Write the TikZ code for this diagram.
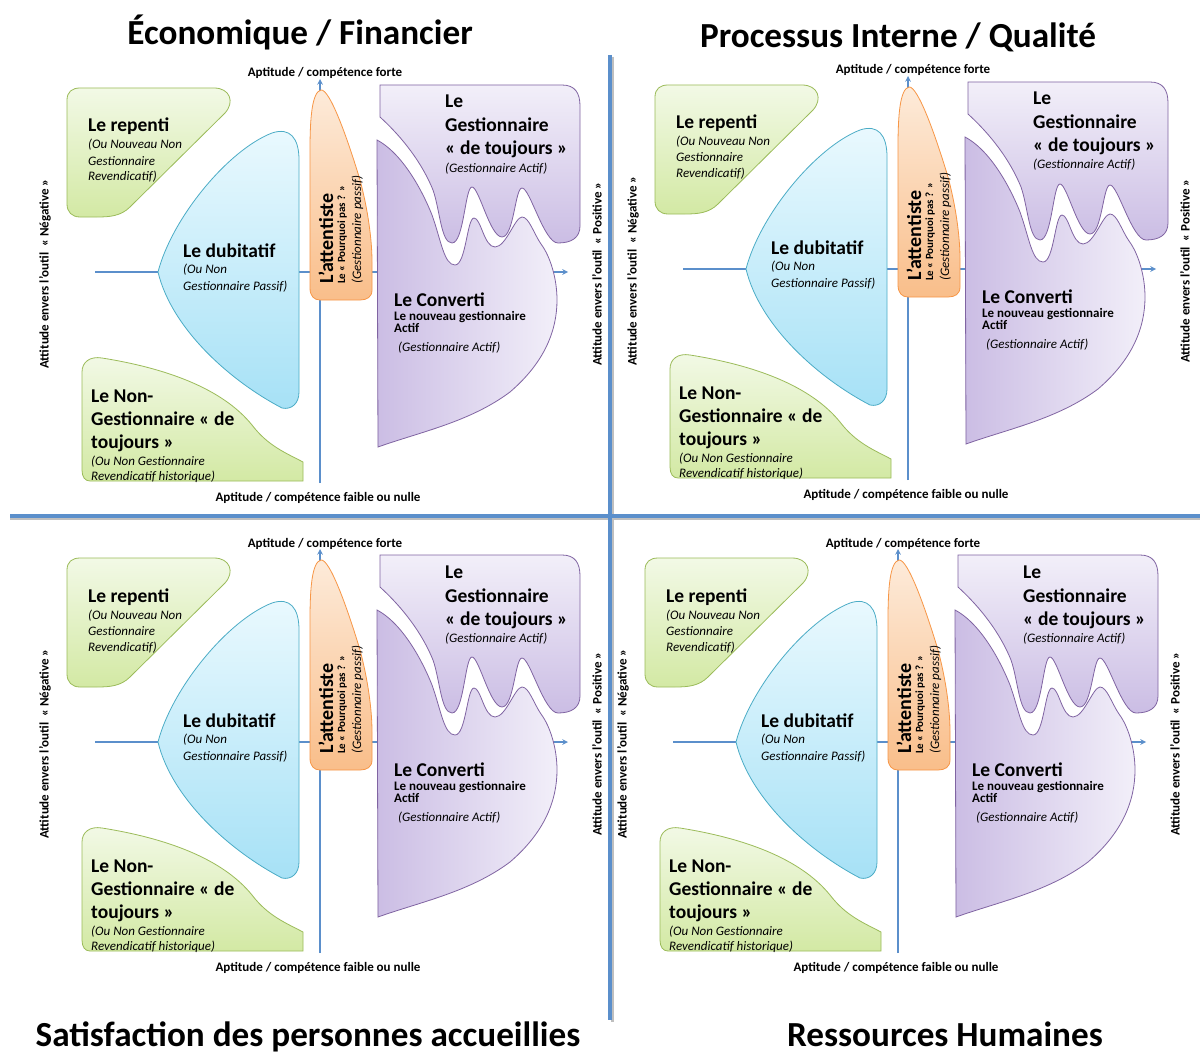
\documentclass[tikz,border=0pt]{standalone}
\usepackage{fontspec}
\setmainfont{Carlito}
\usetikzlibrary{arrows.meta,positioning}

\definecolor{axeblue}{HTML}{5B8FCB}
\definecolor{vertline}{HTML}{9BBB59}
\definecolor{vertlight}{HTML}{F2F9E6}
\definecolor{vertdark}{HTML}{D3E9A4}
\definecolor{bleuline}{HTML}{4BACC6}
\definecolor{bleulight}{HTML}{EAF9FE}
\definecolor{bleudark}{HTML}{A6E1F6}
\definecolor{orangeline}{HTML}{F79646}
\definecolor{orangelight}{HTML}{FDEBDA}
\definecolor{orangedark}{HTML}{F9BE8A}
\definecolor{violetline}{HTML}{8064A2}
\definecolor{violetlight}{HTML}{F2EFF9}
\definecolor{violetdark}{HTML}{CBBDE4}

% un quadrant : decalage x, decalage y, prefixe des noms
\newcommand{\quadrant}[3]{%
\begin{scope}[shift={(#1,#2)},name prefix=#3-]
% axes
\draw[axe,->](95,272)--(568,272);
\draw[axe,->](320,483)--(320,79);
% zones
\draw[vertbox](67,100) .. controls (67,92) and (72,88) .. (80,88) -- (214,88) .. controls (230,88) and (235,102) .. (225,113) -- (130,207) .. controls (121,216) and (110,217) .. (97,217) -- (80,217) .. controls (72,217) and (67,212) .. (67,204) -- cycle;
\draw[bleubox](158,272) .. controls (172,218) and (228,150) .. (272,133) .. controls (290,127) and (299,138) .. (299,160) -- (299,392) .. controls (299,404) and (291,410) .. (282,408) .. controls (232,382) and (172,330) .. (158,272) -- cycle;
\draw[vertbox](82,372) .. controls (82,362) and (90,356) .. (102,358) .. controls (165,368) and (222,388) .. (252,425) .. controls (268,446) and (286,453) .. (303,462) -- (303,481) -- (90,481) .. controls (85,481) and (82,477) .. (82,470) -- cycle;
\draw[orangebox](310,288) -- (310,150) .. controls (310,118) and (312,92) .. (321,90) .. controls (330,89) and (348,140) .. (360,180) .. controls (368,210) and (372,240) .. (372,262) -- (372,290) .. controls (372,297) and (367,300) .. (360,300) -- (320,300) .. controls (314,300) and (310,296) .. (310,288) -- cycle;
\draw[violetbox](380,85) -- (562,85) .. controls (575,85) and (580,93) .. (580,106) -- (580,226) .. controls (580,238) and (571,243) .. (558,243) .. controls (544,243) and (530,188) .. (522,188) .. controls (515,188) and (514,237) .. (502,237) .. controls (490,237) and (479,187) .. (472,187) .. controls (465,187) and (464,243) .. (452,243) .. controls (441,243) and (440,210) .. (433,190) .. controls (422,163) and (403,138) .. (380,117) -- cycle;
\draw[convbox](377,140) .. controls (400,152) and (420,185) .. (432,215) .. controls (441,240) and (444,265) .. (455,265) .. controls (466,265) and (467,218) .. (474,218) .. controls (481,218) and (484,247) .. (495,247) .. controls (506,247) and (515,217) .. (522,217) .. controls (529,217) and (534,234) .. (541,244) .. controls (550,256) and (557,278) .. (557,300) .. controls (557,330) and (545,362) .. (510,392) .. controls (470,422) and (420,432) .. (378,447) -- cycle;
% textes
\path(325,77)node[ax,anchor=base](forte){Aptitude / compétence forte}
(318,501)node[ax,anchor=base](faible){Aptitude / compétence faible ou nulle}
(45,274)node[ax,rotate=90,anchor=center](neg){Attitude envers l’outil\ \ « Négative »}
(597,274)node[ax,rotate=90,anchor=center](pos){Attitude envers l’outil\ \ « Positive »};
\path(88,132)node[hd](rep1){Le repenti}
(88,149)node[it](rep2){(Ou Nouveau Non}
(88,165)node[it](rep3){Gestionnaire}
(88,181)node[it](rep4){Revendicatif)};
\path(183,257)node[hd](dub1){Le dubitatif}
(183,273)node[it](dub2){(Ou Non}
(183,290)node[it](dub3){Gestionnaire Passif)};
\path(91,402)node[hd](non1){Le Non-}
(91,425)node[hd](non2){Gestionnaire « de}
(91,448)node[hd](non3){toujours »}
(91,465)node[it](non4){(Ou Non Gestionnaire}
(91,480)node[it](non5){Revendicatif historique)};
\path(333,284)node[hd,rotate=90,font=\fontsize{20}{24}\selectfont\bfseries](att1){L’attentiste}
(345,284)node[sm,rotate=90,font=\fontsize{11}{13}\selectfont\bfseries](att2){Le « Pourquoi pas ? »}
(361,284)node[it,rotate=90](att3){(Gestionnaire passif)};
\path(445,108)node[hd](ges1){Le}
(445,132)node[hd](ges2){Gestionnaire}
(445,155)node[hd](ges3){« de toujours »}
(445,172)node[it](ges4){(Gestionnaire Actif)};
\path(394,306)node[hd](con1){Le Converti}
(394,320)node[sm](con2){Le nouveau gestionnaire}
(394,332)node[sm](con3){Actif}
(398,351)node[it](con4){(Gestionnaire Actif)};
\end{scope}}

\begin{document}
\begin{tikzpicture}[x=1pt,y=-1pt,>=stealth,
axe/.style={axeblue,line width=1.5pt},
sep/.style={axeblue,line width=3.5pt},
vertbox/.style={draw=vertline,line width=0.8pt,top color=vertlight,bottom color=vertdark},
bleubox/.style={draw=bleuline,line width=0.8pt,top color=bleulight,bottom color=bleudark},
orangebox/.style={draw=orangeline,line width=0.8pt,top color=orangelight,bottom color=orangedark},
violetbox/.style={draw=violetline,line width=0.8pt,top color=violetlight,bottom color=violetdark},
convbox/.style={draw=violetline,line width=0.8pt,left color=violetdark,right color=violetlight},
hd/.style={font=\fontsize{19.5}{23}\selectfont\bfseries,inner sep=0pt,anchor=base west},
it/.style={font=\fontsize{13}{15}\selectfont\itshape,inner sep=0pt,anchor=base west},
sm/.style={font=\fontsize{13}{15}\selectfont\bfseries,inner sep=0pt,anchor=base west},
ax/.style={font=\fontsize{13}{15}\selectfont\bfseries,inner sep=0pt},
titre/.style={font=\fontsize{35.2}{40}\selectfont\bfseries,inner sep=0pt,anchor=base}]
\useasboundingbox[fill=white](0,0)rectangle(1200,1054);
% separations
\draw[black!25,line width=3pt](612,57)--(612,1022);
\draw[black!25,line width=3pt](10,518)--(1200,518);
\draw[sep](610,55)--(610,1020);
\draw[sep](10,516)--(1200,516);
% les quatre quadrants
\quadrant{0}{0}{eco}
\quadrant{588}{-3}{pro}
\quadrant{0}{470}{sat}
\quadrant{578}{470}{rh}
% titres
\node[titre](t1) at (300,45){Économique / Financier};
\node[titre](t2) at (898,48){Processus Interne / Qualité};
\node[titre](t3) at (308,1046){Satisfaction des personnes accueillies};
\node[titre](t4) at (945,1046){Ressources Humaines};
\end{tikzpicture}
\end{document}
